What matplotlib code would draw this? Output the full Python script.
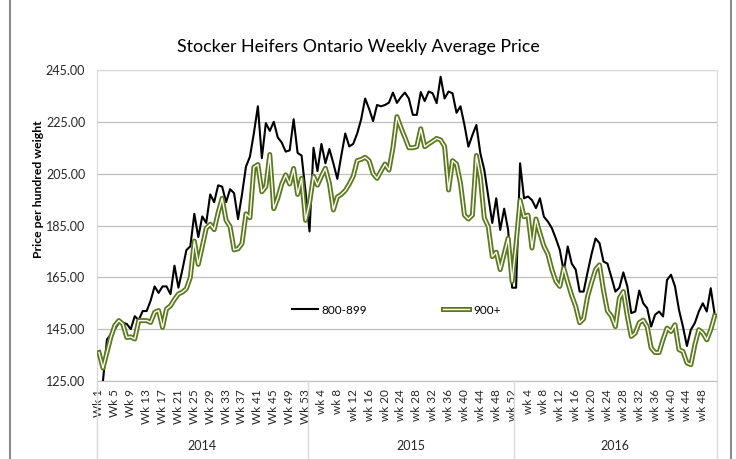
import matplotlib
matplotlib.use('Agg')
import matplotlib.pyplot as plt
from matplotlib.lines import Line2D
from matplotlib.legend_handler import HandlerTuple
from matplotlib.transforms import blended_transform_factory
import numpy as np

# weekly prices, one list per year
years = ['2014', '2015', '2016']

price_800_2014 = [117, 125, 141, 143, 145, 147.5, 147.5, 147, 145, 150,
                  148.5, 152, 152, 156, 161.5, 159, 161.5, 161.5, 158.5, 169.5,
                  161, 168, 175.5, 177, 189.5, 180.5, 188.5, 186, 197, 194,
                  200.5, 200, 194, 199, 197.5, 187.5, 197, 207.7, 211.6, 220.7,
                  231, 211, 224.5, 221.5, 225, 219, 217, 213.5, 214, 226,
                  213, 212, 198]
price_800_2015 = [182.7, 215, 206, 216.5, 209, 214.5, 209, 203, 212, 220.5,
                  215.5, 216.5, 220.5, 226, 234, 230, 225.3, 231.5, 231, 231.5,
                  232.4, 236.3, 232.3, 234.5, 236.3, 234, 227.7, 227.7, 236.5, 233,
                  236.7, 236, 232.2, 242.4, 234, 236.7, 236, 228.5, 231, 223.8,
                  215.4, 219.9, 223.8, 212.9, 206.4, 196.2, 186, 195.5, 183.3, 191.5,
                  183.3, 161]
price_800_2016 = [161, 209, 195.5, 196.2, 194.8, 191.7, 195.5, 188.4, 186.5, 184,
                  180, 175.6, 167.2, 176.9, 170.3, 168, 159.5, 159.5, 167, 174,
                  180, 178.2, 171.1, 170.3, 165, 159.5, 161, 166.9, 161.5, 151.2,
                  151.8, 159.9, 155, 153.1, 146, 150.6, 151.8, 149.9, 164, 166,
                  161.5, 152.5, 146, 138.5, 144.8, 147.4, 151.8, 155, 151.8, 160.8,
                  150.6]

price_900_2014 = [136, 130, 136, 142, 146.5, 148.3, 147, 141.8, 142, 141.2,
                  148.3, 148.3, 148.3, 147.6, 151.5, 152.2, 145.7, 152.8, 154, 156.5,
                  158.6, 159.3, 160.6, 165, 179, 170, 176.9, 184, 185.5, 183.4,
                  190, 195.5, 187, 184.6, 175.6, 176, 178, 189.5, 188, 207.5,
                  208.5, 198, 200, 212.4, 191.5, 195.5, 201, 204.5, 201, 207,
                  197, 203.2, 187]
price_900_2015 = [193.6, 204, 200.6, 204, 207.1, 201.3, 191, 196, 197, 198.5,
                  201, 204, 210, 210.5, 211.3, 210, 205, 203.2, 206, 208.7,
                  206.4, 215, 227, 222.8, 219, 215, 215, 215.4, 222.3, 215.4,
                  216.5, 217.5, 218.6, 218, 215.5, 198.7, 210, 208.7, 201.3, 189,
                  187.5, 189, 212, 203.6, 187.8, 184.6, 173, 174.7, 168, 174,
                  180.1, 163.4]
price_900_2016 = [178, 194.8, 188.4, 189, 176.3, 187.5, 182, 177, 174, 168,
                  163.5, 161.5, 168.6, 163, 158, 153.8, 147.5, 149, 157.6, 163,
                  168, 169.8, 160, 152, 150, 146, 157, 159.5, 150, 142.2,
                  143.5, 147.5, 148.5, 146, 137.7, 136, 136, 141, 145.4, 144.1,
                  146.7, 137.1, 136.4, 132, 131.3, 139, 144.8, 143.5, 140.9, 144.8,
                  150.2]

ticks_2014 = ['Wk 1', 'Wk 5', 'Wk 9', 'Wk 13', 'Wk 17', 'Wk 21', 'Wk 25',
              'Wk 29', 'Wk 33', 'Wk 37', 'Wk 41', 'Wk 45', 'Wk 49', 'Wk 53']
ticks_2015 = ['wk 4', 'wk 8', 'wk 12', 'wk 16', 'wk 20', 'wk 24', 'wk 28',
              'wk 32', 'wk 36', 'wk 40', 'wk 44', 'wk 48', 'wk 52']
ticks_2016 = ['wk 4', 'wk 8', 'wk 12', 'wk 16', 'wk 20', 'wk 24', 'wk 28',
              'wk 32', 'wk 36', 'wk 40', 'wk 44', 'wk 48']

price_800 = price_800_2014 + price_800_2015 + price_800_2016
price_900 = price_900_2014 + price_900_2015 + price_900_2016
year_sizes = [len(price_800_2014), len(price_800_2015), len(price_800_2016)]
tick_labels = ticks_2014 + ticks_2015 + ticks_2016

plt.rcParams['font.family'] = ['Lato', 'DejaVu Sans']

W, H = 736, 459
fig = plt.figure(figsize=(W / 100, H / 100), dpi=100)
ax = fig.add_axes([97 / W, 1 - 381 / H, (716.7 - 97) / W, (381 - 70) / H])

olive = '#5b7a1c'
x = np.arange(len(price_800))

# series
black_line, = ax.plot(x, price_800, color='black', lw=1.5, zorder=3)
g_outer, = ax.plot(x, price_900, color=olive, lw=3.6, zorder=4)
g_inner, = ax.plot(x, price_900, color='white', lw=1.0, zorder=5)

# axes
ax.set_xlim(-0.5, len(x) - 0.5)
ax.set_ylim(125, 245)
ax.set_yticks(np.arange(125, 246, 20))
ax.set_yticklabels([f'{v:.2f}' for v in np.arange(125, 246, 20)])
ax.set_xticks(np.arange(0, len(x), 4))
ax.set_xticklabels(tick_labels, rotation=90)
ax.tick_params(axis='y', length=0, pad=8.5, labelsize=9, labelcolor='#262626')
ax.tick_params(axis='x', length=0, pad=6, labelsize=8.5, labelcolor='#262626')
ax.yaxis.grid(True, color='#bfbfbf', lw=0.9)
ax.set_axisbelow(True)
for side in ['top', 'right', 'left']:
    ax.spines[side].set_color('#d9d9d9')
ax.spines['bottom'].set_color('#bfbfbf')

# year groups under the week labels
tr = blended_transform_factory(ax.transData, fig.transFigure)
edges = np.concatenate([[0], np.cumsum(year_sizes)]) - 0.5
for e in edges:
    fig.add_artist(Line2D([e, e], [0, 1 - 381 / H], transform=tr, color='#d9d9d9', lw=1))
for i, yr in enumerate(years):
    fig.text((edges[i] + edges[i + 1]) / 2, 1 - 446 / H, yr, transform=tr,
             ha='center', va='center', fontsize=9, color='#262626')

# legend inside the plot
ax.legend([black_line, (g_outer, g_inner)], ['800-899', '900+'],
          handler_map={tuple: HandlerTuple(ndivide=1)},
          loc='center', bbox_to_anchor=(396 / W, 1 - 310 / H), bbox_transform=fig.transFigure,
          ncol=2, frameon=False, fontsize=8.5, handlelength=2.2,
          handletextpad=0.3, columnspacing=6.5)

# titles
fig.text(358 / W, 1 - 47 / H, 'Stocker Heifers Ontario Weekly Average Price',
         ha='center', va='center', fontsize=12.8, color='black')
fig.text(39 / W, 1 - 189 / H, 'Price per hundred weight', rotation=90,
         ha='center', va='center', fontsize=8.8, fontweight='bold')

# chart frame edges
for fx in [10, 731]:
    fig.add_artist(Line2D([fx / W, fx / W], [0, 1], transform=fig.transFigure,
                          color='#8c8c8c', lw=1.5))

fig.savefig('out.png', dpi=100)
